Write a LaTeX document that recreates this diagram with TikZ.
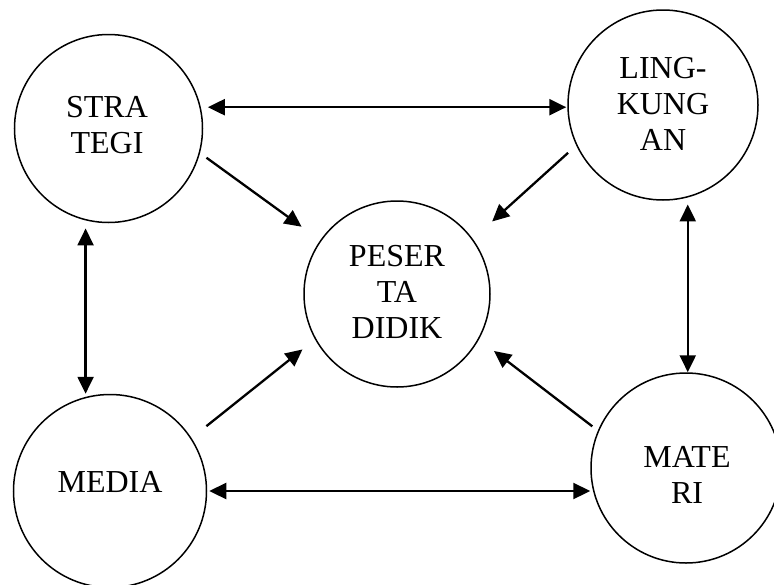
\documentclass[tikz,border=0pt]{standalone}
\usepackage{fontspec}
\setmainfont{Liberation Serif}
\usetikzlibrary{arrows.meta}
\begin{document}
\begin{tikzpicture}[x=1pt,y=-1pt,
  circ/.style={draw,circle,line width=1.5pt,inner sep=0pt},
  lbl/.style={align=center,inner sep=0pt,font=\fontsize{32}{36}\selectfont},
  arr/.style={line width=2.3pt,-{Triangle[length=17pt,width=16pt]}},
  darr/.style={line width=2.3pt,{Triangle[length=17pt,width=16pt]}-{Triangle[length=17pt,width=16pt]}}]
\useasboundingbox (0,0) rectangle (774,584);
\node[circ,minimum size=188pt] (strategi) at (108.5,128.5) {};
\node[circ,minimum size=190pt] (lingkungan) at (663,105) {};
\node[circ,minimum size=186pt] (peserta) at (397,294) {};
\node[circ,minimum size=193pt] (media) at (110,491) {};
\node[circ,minimum size=190pt] (materi) at (686,468) {};
\node[lbl] (tstrategi) at (107,125) {STRA\\TEGI};
\node[lbl] (tlingkungan) at (663,104) {LING-\\KUNG\\AN};
\node[lbl] (tpeserta) at (397,291.5) {PESER\\TA\\DIDIK};
\node[lbl] (tmedia) at (110,482) {MEDIA};
\node[lbl] (tmateri) at (687,475) {MATE\\RI};
% double arrows
\draw[darr,shorten <=7pt,shorten >=1pt] (strategi.13) -- (strategi.13 -| lingkungan.west);
\draw[darr,shorten <=8pt] (strategi.256) -- (strategi.256 |- media.north);
\draw[darr,shorten <=7pt] (lingkungan.285) -- (lingkungan.285 |- materi.north);
\draw[darr,shorten <=2pt] (media.east) -- (media.east -| materi.west);
% single arrows to centre
\draw[arr,shorten <=8pt,shorten >=23pt] (strategi.-15) -- (peserta.145);
\draw[arr,shorten <=11pt,shorten >=26pt] (lingkungan.205) -- (peserta.36);
\draw[arr,shorten <=19pt,shorten >=16pt] (media.33) -- (peserta.209);
\draw[arr,shorten <=7pt,shorten >=19pt] (materi.157) -- (peserta.331);
\end{tikzpicture}
\end{document}
